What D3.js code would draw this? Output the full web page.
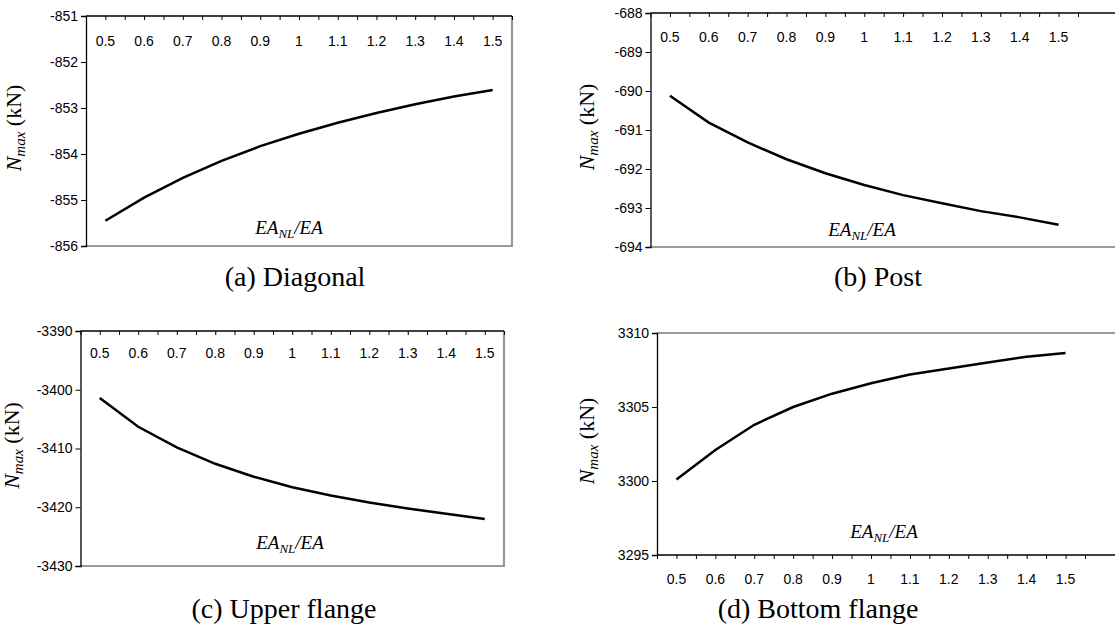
<!DOCTYPE html>
<html><head><meta charset="utf-8">
<script src="https://cdn.jsdelivr.net/npm/d3@7"></script>
<style>
html,body{margin:0;padding:0;background:#fff;}
svg{display:block;}
</style></head>
<body>
<svg id="c" width="1115" height="634"></svg>
<script>
// ---- data ----
const categories = [0.5,0.6,0.7,0.8,0.9,1.0,1.1,1.2,1.3,1.4,1.5];
const categoryLabels = ["0.5","0.6","0.7","0.8","0.9","1","1.1","1.2","1.3","1.4","1.5"];
const diagonal = [-855.45,-854.95,-854.52,-854.15,-853.83,-853.56,-853.32,-853.11,-852.92,-852.75,-852.61];
const post = [-690.12,-690.81,-691.32,-691.75,-692.11,-692.41,-692.67,-692.88,-693.08,-693.24,-693.43];
const upperFlange = [-3401.4,-3406.3,-3409.8,-3412.6,-3414.8,-3416.6,-3418.0,-3419.2,-3420.2,-3421.1,-3422.0];
const bottomFlange = [3300.1,3302.1,3303.8,3305.0,3305.9,3306.6,3307.2,3307.6,3308.0,3308.4,3308.65];
const yTicksA = [-851,-852,-853,-854,-855,-856];
const yTicksB = [-688,-689,-690,-691,-692,-693,-694];
const yTicksC = [-3390,-3400,-3410,-3420,-3430];
const yTicksD = [3310,3305,3300,3295];
const xTickMarks = [0.45,0.5,0.55,0.6,0.65,0.7,0.75,0.8,0.85,0.9,0.95,1.0,1.05,1.1,1.15,1.2,1.25,1.3,1.35,1.4,1.45,1.5,1.55];
const captions = ["(a) Diagonal","(b) Post","(c) Upper flange","(d) Bottom flange"];

const svg = d3.select("#c");
const GRAY = "#9a9a9a";
const SANS = "Liberation Sans, Arial, sans-serif";
const SERIF = "Liberation Serif, Times New Roman, serif";

const panels = [
  {vals: diagonal, yt: yTicksA, L:86, R:512, T:16, B:246, frameR:512, axisTop:true, lblDy:30, ylx:20, eax:289, eay:234, cap:captions[0], capx:295, capy:286},
  {vals: post, yt: yTicksB, L:650.5, R:1078, T:13, B:247, frameR:1115, axisTop:true, lblDy:29, ylx:593, eax:862, eay:236, cap:captions[1], capx:878, capy:286},
  {vals: upperFlange, yt: yTicksC, L:80.5, R:504, T:331, B:566, frameR:504, axisTop:true, lblDy:27, ylx:18, eax:290, eay:549, cap:captions[2], capx:284, capy:618},
  {vals: bottomFlange, yt: yTicksD, L:657, R:1085, T:333, B:555, frameR:1115, axisTop:false, lblDy:29, ylx:593, eax:884, eay:538, cap:captions[3], capx:818, capy:618}
];

panels.forEach(p => {
  const ext = d3.extent(p.yt);
  const x = d3.scaleLinear().domain([0.45,1.55]).range([p.L,p.R]);
  const y = d3.scaleLinear().domain(ext).range([p.B,p.T]);
  const g = svg.append("g");

  // gray plot-area border
  if (p.axisTop) {
    g.append("path").attr("d", `M${p.L},${p.B}H${p.frameR}` + (p.frameR < 1110 ? `V${p.T}` : ""))
      .attr("fill","none").attr("stroke",GRAY).attr("stroke-width",2.2);
  } else {
    g.append("path").attr("d", `M${p.L},${p.T}H${p.frameR}`)
      .attr("fill","none").attr("stroke",GRAY).attr("stroke-width",2.2);
  }

  // y axis
  const ya = d3.axisLeft(y).tickValues(p.yt).tickSize(5).tickPadding(3).tickFormat(d3.format("d"));
  const yg = g.append("g").attr("transform",`translate(${p.L},0)`).call(ya);
  yg.select(".domain").attr("stroke","#000").attr("stroke-width",1.3);
  yg.selectAll(".tick line").attr("stroke","#000");
  yg.selectAll(".tick text").attr("font-family",SANS).attr("font-size",14).attr("fill","#000")
    .text(d => d < 0 ? "-" + Math.abs(d) : String(d));

  // x axis line with tick marks pointing down
  const ax = p.axisTop ? p.T : p.B;
  const xa = d3.axisBottom(x).tickValues(xTickMarks).tickSize(4).tickSizeOuter(0).tickFormat("");
  const xg = g.append("g").attr("transform",`translate(0,${ax})`).call(xa);
  xg.select(".domain").attr("d", `M${p.L},0H${p.frameR}`).attr("stroke","#000").attr("stroke-width",1.3);
  xg.selectAll(".tick line").attr("stroke","#000");

  // category labels
  g.selectAll(".cl").data(categories).enter().append("text")
    .attr("x", d => x(d)).attr("y", ax + p.lblDy)
    .attr("text-anchor","middle").attr("font-family",SANS).attr("font-size",14)
    .text((d,i) => categoryLabels[i]);

  // series line
  const line = d3.line().x((d,i) => x(categories[i])).y(d => y(d));
  g.append("path").datum(p.vals).attr("d", line).attr("fill","none").attr("stroke","#000").attr("stroke-width",2.5);

  // x title EA_NL/EA
  const t = g.append("text").attr("x",p.eax).attr("y",p.eay).attr("text-anchor","middle")
    .attr("font-family",SERIF).attr("font-style","italic").attr("font-size",19);
  t.append("tspan").text("EA");
  t.append("tspan").attr("font-size",13).attr("dy",4).text("NL");
  t.append("tspan").attr("dy",-4).text("/EA");

  // y title N_max (kN)
  const yc = (p.T + p.B)/2 - 3;
  const yt = g.append("text").attr("transform",`translate(${p.ylx + 1},${yc}) rotate(-90)`).attr("text-anchor","middle")
    .attr("font-family",SERIF).attr("font-size",22);
  yt.append("tspan").attr("font-style","italic").text("N");
  yt.append("tspan").attr("font-style","italic").attr("font-size",15).attr("dy",4).text("max");
  yt.append("tspan").attr("dy",-4).text(" (kN)");

  // caption
  svg.append("text").attr("x",p.capx).attr("y",p.capy).attr("text-anchor","middle")
    .attr("font-family",SERIF).attr("font-size",28).text(p.cap);
});
</script>
</body></html>
